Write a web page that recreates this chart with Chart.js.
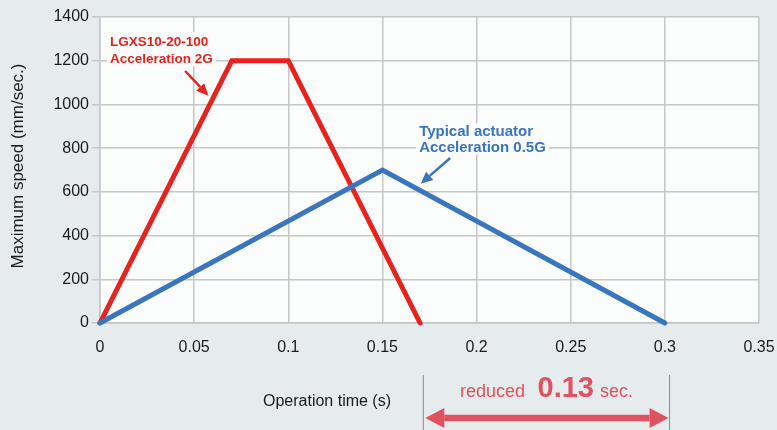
<!DOCTYPE html>
<html>
<head>
<meta charset="utf-8">
<script src="https://cdn.jsdelivr.net/npm/chart.js@4"></script>
<style>
  html, body { margin: 0; padding: 0; background: #e6ebee; }
  #wrap { width: 777px; height: 430px; }
</style>
</head>
<body>
<div id="wrap"><canvas id="chart" width="777" height="430"></canvas></div>
<script>
// data
const xTicks = [0, 0.05, 0.1, 0.15, 0.2, 0.25, 0.3, 0.35];
const yTicks = [0, 200, 400, 600, 800, 1000, 1200, 1400];

const lgxsTime  = [0, 0.07, 0.1, 0.17];
const lgxsSpeed = [0, 1200, 1200, 0];

const typicalTime  = [0, 0.15, 0.3];
const typicalSpeed = [0, 700, 0];

const lgxsLabel    = ["LGXS10-20-100", "Acceleration 2G"];
const typicalLabel = ["Typical actuator", "Acceleration 0.5G"];

const RED   = "#e8221e";
const BLUE  = "#3a75c0";
const PINK  = "#e0525f";
const FONT  = "'Liberation Sans', Arial, Helvetica, sans-serif";

const toPoints = (xs, ys) => xs.map((x, i) => ({ x, y: ys[i] }));

function head(ctx, x2, y2, ang, headLen, headHalf) {
  const bx = x2 - Math.cos(ang) * headLen;
  const by = y2 - Math.sin(ang) * headLen;
  ctx.beginPath();
  ctx.moveTo(x2, y2);
  ctx.lineTo(bx + Math.sin(ang) * headHalf, by - Math.cos(ang) * headHalf);
  ctx.lineTo(bx - Math.sin(ang) * headHalf, by + Math.cos(ang) * headHalf);
  ctx.closePath();
  ctx.fill();
  return [bx, by];
}

function arrow(ctx, x1, y1, x2, y2, color, width, headLen, headHalf, both) {
  const ang = Math.atan2(y2 - y1, x2 - x1);
  ctx.strokeStyle = color;
  ctx.fillStyle = color;
  ctx.lineWidth = width;
  const [bx, by] = head(ctx, x2, y2, ang, headLen, headHalf);
  let [ax, ay] = [x1, y1];
  if (both) [ax, ay] = head(ctx, x1, y1, ang + Math.PI, headLen, headHalf);
  ctx.beginPath();
  ctx.moveTo(ax, ay);
  ctx.lineTo(bx, by);
  ctx.stroke();
}

function label(ctx, lines, x, y0, step, font, color) {
  ctx.font = font;
  ctx.textBaseline = "alphabetic";
  ctx.textAlign = "left";
  lines.forEach((t, i) => {
    const w = ctx.measureText(t).width;
    const y = y0 + i * step;
    ctx.fillStyle = "#fbfdfd";
    ctx.fillRect(x - 3, y - step + 3, w + 6, step);
    ctx.fillStyle = color;
    ctx.fillText(t, x, y);
  });
}

const plotBg = {
  id: "plotBg",
  beforeDraw(chart) {
    const { ctx, chartArea: a } = chart;
    ctx.save();
    ctx.fillStyle = "#fbfdfd";
    ctx.fillRect(a.left, a.top, a.right - a.left, a.bottom - a.top);
    ctx.restore();
  },
};

const notes = {
  id: "notes",
  afterDatasetsDraw(chart) {
    const { ctx, scales: { x, y } } = chart;
    ctx.save();

    // LGXS annotation
    label(ctx, lgxsLabel, x.getPixelForValue(0.0053), y.getPixelForValue(1268), 17,
      `bold 13.5px ${FONT}`, RED);
    arrow(ctx, x.getPixelForValue(0.0452), y.getPixelForValue(1153),
      x.getPixelForValue(0.0576), y.getPixelForValue(1040), RED, 2.5, 12, 5.5);

    // typical actuator annotation
    label(ctx, typicalLabel, x.getPixelForValue(0.1695), y.getPixelForValue(856), 15.7,
      `bold 15px ${FONT}`, BLUE);
    arrow(ctx, x.getPixelForValue(0.186), y.getPixelForValue(755),
      x.getPixelForValue(0.1703), y.getPixelForValue(637), BLUE, 2.5, 12, 5.5);

    // axis titles
    ctx.fillStyle = "#1a1a1a";
    ctx.font = `16px ${FONT}`;
    ctx.textAlign = "center";
    ctx.textBaseline = "middle";
    ctx.fillText("Operation time (s)", 327, 402);
    ctx.save();
    ctx.translate(18, 166);
    ctx.rotate(-Math.PI / 2);
    ctx.font = `17px ${FONT}`;
    ctx.fillText("Maximum speed (mm/sec.)", 0, 0);
    ctx.restore();

    // reduced time bracket
    const xa = x.getPixelForValue(0.1717);
    const xb = x.getPixelForValue(0.3025);
    ctx.strokeStyle = "#8a8a8a";
    ctx.lineWidth = 1;
    ctx.beginPath();
    ctx.moveTo(xa, 375); ctx.lineTo(xa, 430);
    ctx.moveTo(xb, 375); ctx.lineTo(xb, 430);
    ctx.stroke();
    arrow(ctx, xa + 2, 418, xb - 1, 418, PINK, 6.5, 19, 10, true);

    ctx.fillStyle = PINK;
    ctx.textAlign = "left";
    ctx.textBaseline = "alphabetic";
    ctx.font = `18px ${FONT}`;
    ctx.fillText("reduced", 460, 397);
    ctx.font = `bold 29px ${FONT}`;
    ctx.fillText("0.13", 537.5, 397);
    ctx.font = `18px ${FONT}`;
    ctx.fillText("sec.", 600, 397);

    ctx.restore();
  },
};

const lineStyle = {
  showLine: true,
  pointRadius: 0,
  borderWidth: 5,
  borderCapStyle: "round",
  borderJoinStyle: "miter",
  tension: 0,
  clip: false,
};

new Chart(document.getElementById("chart"), {
  type: "scatter",
  data: {
    datasets: [
      { ...lineStyle, label: "Typical actuator", data: toPoints(typicalTime, typicalSpeed),
        borderColor: BLUE, backgroundColor: BLUE },
      { ...lineStyle, label: "LGXS10-20-100", data: toPoints(lgxsTime, lgxsSpeed),
        borderColor: RED, backgroundColor: RED },
    ],
  },
  options: {
    responsive: false,
    animation: false,
    layout: { padding: { top: 17, right: 18, left: 0, bottom: 0 } },
    plugins: { legend: { display: false }, tooltip: { enabled: false } },
    scales: {
      x: {
        type: "linear",
        min: 0,
        max: 0.35,
        afterBuildTicks: s => { s.ticks = xTicks.map(v => ({ value: v })); },
        afterFit: s => { s.height = 107; s.paddingLeft = 0; s.paddingRight = 0; },
        ticks: { color: "#1a1a1a", font: { family: FONT, size: 16 }, padding: 15,
          callback: v => String(v) },
        grid: { color: "#c6c6c6", lineWidth: 1.5, drawTicks: false },
        border: { color: "#c6c6c6", width: 1.5 },
      },
      y: {
        min: 0,
        max: 1400,
        afterBuildTicks: s => { s.ticks = yTicks.map(v => ({ value: v })); },
        afterFit: s => { s.width = 100; s.paddingTop = 0; s.paddingBottom = 0; },
        ticks: { color: "#1a1a1a", font: { family: FONT, size: 16 }, padding: 3,
          callback: v => String(v) },
        grid: { color: "#c6c6c6", lineWidth: 1.5, tickLength: 8 },
        border: { color: "#c6c6c6", width: 1.5 },
      },
    },
  },
  plugins: [plotBg, notes],
});
</script>
</body>
</html>
